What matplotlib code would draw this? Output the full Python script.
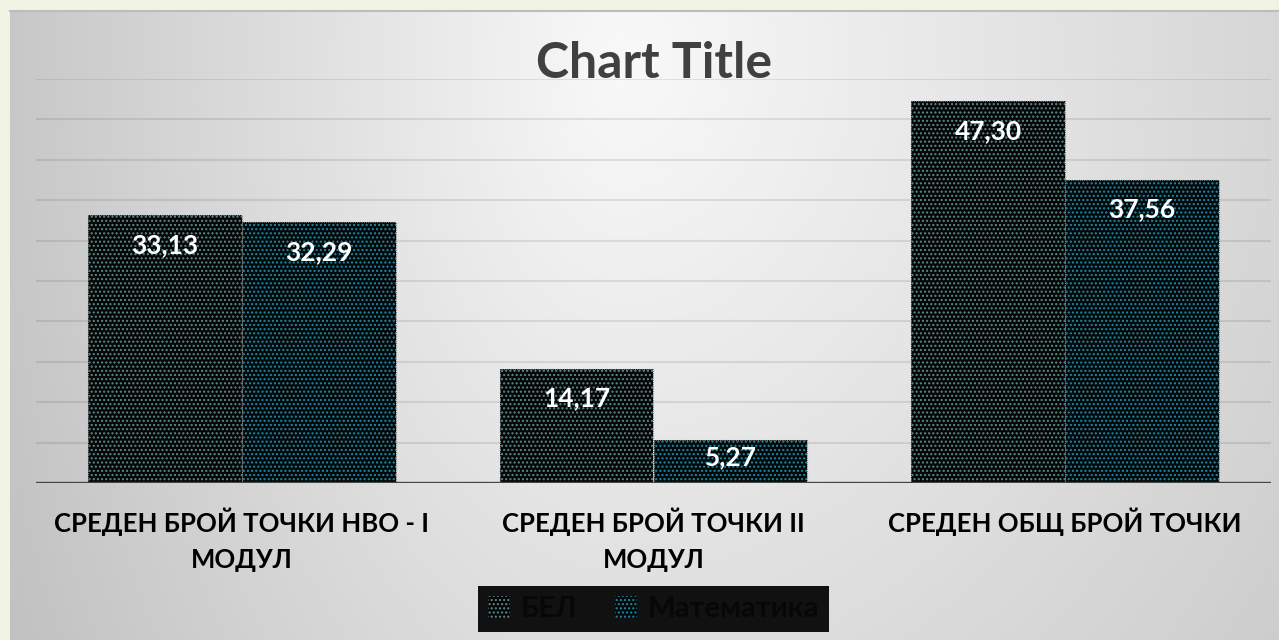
import numpy as np
import matplotlib
matplotlib.use("Agg")
import matplotlib.pyplot as plt
import matplotlib.transforms as mtransforms
from matplotlib.lines import Line2D

# ---- data ----
categories = ["СРЕДЕН БРОЙ ТОЧКИ НВО - I\nМОДУЛ",
              "СРЕДЕН БРОЙ ТОЧКИ II\nМОДУЛ",
              "СРЕДЕН ОБЩ БРОЙ ТОЧКИ"]
series_names = ["БЕЛ", "Математика"]
bel_values = [33.13, 14.17, 47.30]
math_values = [32.29, 5.27, 37.56]
y_max = 50
y_step = 5
chart_title = "Chart Title"

plt.rcParams["hatch.linewidth"] = 1.0
FONT = ["Lato", "Open Sans", "DejaVu Sans"]
WEIGHT = "bold"

W, H = 1279, 640
fig = plt.figure(figsize=(W / 100, H / 100), dpi=100)
fig.patch.set_facecolor("#F1F4E4")

# ---- gradient background of chart area ----
bg = fig.add_axes([10 / W, 0, (W - 10) / W, (H - 10) / H])
yy, xx = np.mgrid[10:H, 10:W].astype(float)
dx = xx - 620
sx = np.where(dx < 0, 620.0, 950.0)
dy = yy - 60
r = np.sqrt((dx / sx) ** 2 + (dy / 1100.0) ** 2)
v = np.clip(249 - 50 * r, 0, 255) / 255.0
bg.imshow(np.dstack([v, v, v]), aspect="auto", interpolation="bilinear")
bg.axis("off")
fig.add_artist(Line2D([10 / W, 1], [(H - 10.5) / H] * 2, color="#BDBDBD", lw=1.5))

# ---- main axes ----
ax = fig.add_axes([36 / W, (H - 483) / H, 1235 / W, 404 / H])
ax.patch.set_alpha(0)
ax.set_xlim(-0.5, len(categories) - 0.5)
ax.set_ylim(0, y_max)
ax.set_yticks(np.arange(0, y_max + y_step, y_step))
ax.yaxis.grid(True, color="#000000", alpha=0.09, lw=1.5)
ax.set_axisbelow(True)
ax.tick_params(axis="y", length=0, labelleft=False)
ax.tick_params(axis="x", length=0, labelbottom=False)
for s in ax.spines.values():
    s.set_visible(False)
ax.axhline(0, color="#454545", lw=2.4, zorder=5)

x = np.arange(len(categories))
w = 0.374
styles = [dict(color="#060606", edgecolor="#5A8C8C"),
          dict(color="#03080a", edgecolor="#218AA2")]
handles = []
for i, (vals, st) in enumerate(zip([bel_values, math_values], styles)):
    xs = x - w / 2 if i == 0 else x + w / 2
    b = ax.bar(xs, vals, w, color=st["color"], edgecolor=st["edgecolor"],
               hatch="....", linewidth=0, zorder=3, label=series_names[i])
    ax.bar(xs, vals, w, fill=False, edgecolor="#7a7a7a", linewidth=0.8,
           linestyle=(0, (1, 1)), zorder=4)
    handles.append(b)
    for xc, val in zip(xs, vals):
        h_px = ax.transData.transform((0, val))[1] - ax.transData.transform((0, 0))[1]
        off_px = min(30.0, 0.4 * h_px)
        ax.annotate(f"{val:.2f}".replace(".", ","), xy=(xc, val),
                    xytext=(0, -off_px * 72 / 100), textcoords="offset points",
                    ha="center", va="center", color="white", fontsize=19,
                    fontweight=WEIGHT, family=FONT, zorder=6)

# ---- category labels ----
trans = mtransforms.blended_transform_factory(ax.transData, fig.transFigure)
for xc, lab in zip(x, categories):
    ax.text(xc, 1 - 507 / H, lab, transform=trans, ha="center", va="top",
            fontsize=18.5, fontweight=WEIGHT, family=FONT, color="#000000",
            linespacing=1.62)

# ---- title ----
fig.text(654 / W, 1 - 63 / H, chart_title, ha="center", va="center",
         fontsize=36, fontweight=WEIGHT, family=FONT, color="#404040")

# ---- legend ----
leg = fig.legend(handles=handles, labels=series_names, loc="center",
                 bbox_to_anchor=(653.5 / W, 1 - 609 / H), ncol=2,
                 frameon=True, facecolor="#111111", edgecolor="none",
                 fancybox=False, framealpha=1, handlelength=0.75,
                 handleheight=0.75, handletextpad=0.35, columnspacing=1.3,
                 borderpad=0.35,
                 prop=dict(family=FONT, weight=WEIGHT, size=21))
for t in leg.get_texts():
    t.set_color("#070707")
leg.get_frame().set_linewidth(0)

fig.savefig("out.png", dpi=100, facecolor=fig.get_facecolor())
